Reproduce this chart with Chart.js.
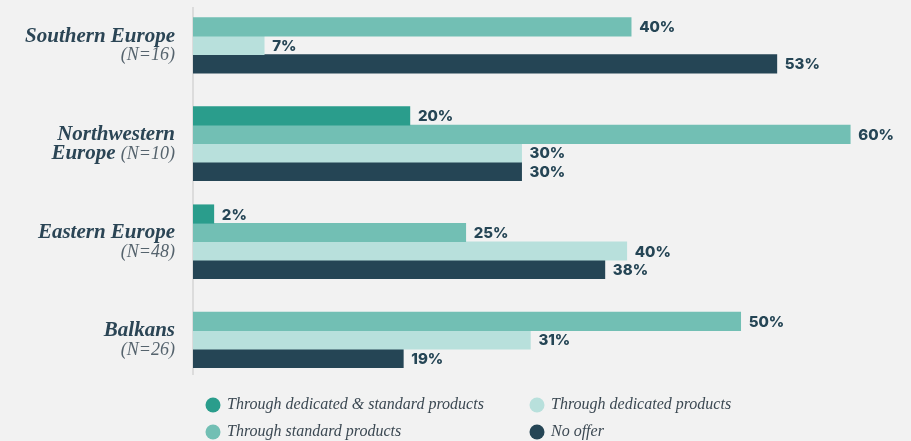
<!DOCTYPE html>
<html><head><meta charset="utf-8">
<script src="https://cdn.jsdelivr.net/npm/chart.js@4.4.1/dist/chart.umd.min.js"></script>
<style>html,body{margin:0;padding:0;background:#f2f2f2;} canvas{display:block;}</style>
</head><body>
<canvas id="c" width="911" height="441"></canvas>
<script>
// ---- data ----
const categories = ['Southern Europe', 'Northwestern Europe', 'Eastern Europe', 'Balkans'];
const categoryLine1 = ['Southern Europe', 'Northwestern', 'Eastern Europe', 'Balkans'];
const categoryLine2 = ['', 'Europe ', '', ''];
const sampleSizes = ['(N=16)', '(N=10)', '(N=48)', '(N=26)'];
const seriesNames = ['Through dedicated & standard products', 'Through standard products', 'Through dedicated products', 'No offer'];
const dedicatedStandard = [null, 19.8, 1.9, null];
const standardOnly = [40, 60, 24.9, 50];
const dedicatedOnly = [6.5, 30, 39.6, 30.8];
const noOffer = [53.3, 30, 37.6, 19.2];
const seriesValues = [dedicatedStandard, standardOnly, dedicatedOnly, noOffer];
const colors = ['#2a9d8c', '#72bfb4', '#b8e0dc', '#254555'];

const datasets = seriesValues.map((vals, s) => ({
  label: seriesNames[s],
  data: vals.map((v, i) => ({ x: v, y: i })),
  backgroundColor: colors[s],
  borderWidth: 0,
  barThickness: 18.5,
  skipNull: true
}));

const categoryLabelsPlugin = {
  id: 'categoryLabels',
  afterDraw(chart) {
    const ctx = chart.ctx, ys = chart.scales.y;
    const xr = chart.chartArea.left - 18;
    ctx.save();
    ctx.textAlign = 'right';
    ctx.textBaseline = 'middle';
    categories.forEach((c, i) => {
      const cy = ys.getPixelForValue(i) + 0.5;
      ctx.font = 'italic bold 21px "Liberation Serif"';
      ctx.fillStyle = '#2b4555';
      ctx.fillText(categoryLine1[i], xr, cy - 9.75);
      ctx.font = 'italic 18px "Liberation Serif"';
      ctx.fillStyle = '#55636d';
      const w = ctx.measureText(sampleSizes[i]).width;
      ctx.fillText(sampleSizes[i], xr, cy + 9.75);
      if (categoryLine2[i]) {
        ctx.font = 'italic bold 21px "Liberation Serif"';
        ctx.fillStyle = '#2b4555';
        ctx.fillText(categoryLine2[i], xr - w, cy + 9.75);
      }
    });
    ctx.restore();
  }
};

const valueLabelsPlugin = {
  id: 'valueLabels',
  afterDatasetsDraw(chart) {
    const ctx = chart.ctx;
    ctx.save();
    ctx.font = '800 15px Inter';
    ctx.fillStyle = '#254555';
    ctx.textAlign = 'left';
    ctx.textBaseline = 'middle';
    chart.data.datasets.forEach((ds, di) => {
      const meta = chart.getDatasetMeta(di);
      meta.data.forEach((bar, i) => {
        const v = seriesValues[di][i];
        if (v === null || v === undefined) return;
        ctx.fillText(Math.round(v) + '%', bar.x + 8, bar.y + 1);
      });
    });
    ctx.restore();
  }
};

const legendPlugin = {
  id: 'gridLegend',
  afterDraw(chart) {
    const ctx = chart.ctx, area = chart.chartArea;
    ctx.save();
    ctx.textAlign = 'left';
    ctx.textBaseline = 'middle';
    ctx.font = 'italic 16px "Liberation Serif"';
    chart.data.datasets.forEach((ds, d) => {
      const col = Math.floor(d / 2), row = d % 2;
      const cx = area.left + 20 + col * 324;
      const cy = area.bottom + 31 + row * 27;
      ctx.beginPath();
      ctx.arc(cx, cy, 7.5, 0, Math.PI * 2);
      ctx.fillStyle = ds.backgroundColor;
      ctx.fill();
      ctx.fillStyle = '#3b4852';
      ctx.fillText(ds.label, cx + 14, cy);
    });
    ctx.restore();
  }
};

new Chart(document.getElementById('c'), {
  type: 'bar',
  data: { datasets },
  plugins: [categoryLabelsPlugin, valueLabelsPlugin, legendPlugin],
  options: {
    indexAxis: 'y',
    responsive: false,
    animation: false,
    devicePixelRatio: 1,
    layout: { padding: { left: 193, right: 6, top: 8, bottom: 67 } },
    scales: {
      x: { type: 'linear', min: 0, max: 65, bounds: 'data', display: false },
      y: {
        type: 'linear', min: -0.381, max: 3.347, bounds: 'data', reverse: true, offset: false,
        grid: { display: false, drawTicks: false, offset: false },
        ticks: { display: false },
        border: { display: true, color: '#dcdcdc', width: 2 },
        afterFit(s) { s.width = 0; }
      }
    },
    plugins: { legend: { display: false }, tooltip: { enabled: false } }
  }
});
</script>
</body></html>
